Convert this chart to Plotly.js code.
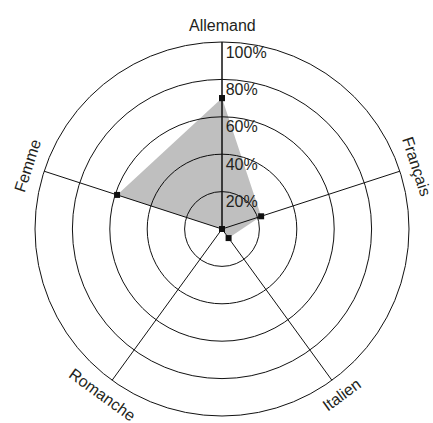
<!DOCTYPE html>
<html>
<head>
<meta charset="utf-8">
<script src="https://cdn.plot.ly/plotly-3.0.1.min.js"></script>
<style>html,body{margin:0;padding:0;background:#fff;}#chart{width:433px;height:423px;}</style>
</head>
<body>
<div id="chart"></div>
<script>
const categories = ["Allemand", "Français", "Italien", "Romanche", "Femme"];
const values = [70, 22, 6, 0, 59];
const radialTicks = [20, 40, 60, 80, 100];
const radialTickText = ["20%", "40%", "60%", "80%", "100%"];

const W = 433, H = 423;
const margin = {l: 35, r: 24, t: 42, b: 7};
const plotSize = 374;
const labelRadiusPx = 204;
const textColor = "#231f20";
const fontFamily = "Liberation Sans, Arial, sans-serif";

// an empty first line drops each radial label just below its ring
const shiftedTickText = radialTickText.map(t => "<br>" + t);

const trace = {
  type: "scatterpolar",
  r: values.concat([values[0]]),
  theta: categories.concat([categories[0]]),
  mode: "markers",
  fill: "toself",
  fillcolor: "rgba(0,0,0,0.25)",
  line: {width: 0, color: "rgba(0,0,0,0)"},
  marker: {symbol: "square", size: 6, color: "#111"},
  hoverinfo: "skip",
  showlegend: false
};

const annotations = categories.map((c, i) => {
  const th = 90 - 72 * i;
  let ta = 90 - th;
  while (ta > 90) ta -= 180;
  while (ta <= -90) ta += 180;
  const rad = th * Math.PI / 180;
  return {
    text: c,
    xref: "paper", yref: "paper",
    x: 0.5 + (labelRadiusPx / plotSize) * Math.cos(rad),
    y: 0.5 + (labelRadiusPx / plotSize) * Math.sin(rad),
    xanchor: "center", yanchor: "middle",
    textangle: ta,
    showarrow: false,
    font: {family: fontFamily, size: 16, color: textColor}
  };
});

const layout = {
  width: W, height: H,
  margin: margin,
  paper_bgcolor: "#fff",
  showlegend: false,
  font: {family: fontFamily, color: textColor},
  polar: {
    bgcolor: "#fff",
    domain: {x: [0, 1], y: [0, 1]},
    radialaxis: {
      range: [0, 100],
      tickvals: radialTicks,
      ticktext: shiftedTickText,
      angle: 90,
      tickangle: 90,
      showline: true,
      linecolor: "#111",
      linewidth: 1,
      gridcolor: "#111",
      gridwidth: 1,
      ticks: "",
      tickfont: {family: fontFamily, size: 16, color: textColor},
      layer: "above traces"
    },
    angularaxis: {
      type: "category",
      categoryarray: categories,
      direction: "clockwise",
      rotation: 90,
      showline: true,
      linecolor: "#111",
      linewidth: 1,
      gridcolor: "#111",
      gridwidth: 1,
      ticks: "",
      showticklabels: false
    }
  },
  annotations: annotations
};

Plotly.newPlot("chart", [trace], layout, {displayModeBar: false, staticPlot: true});
</script>
</body>
</html>
